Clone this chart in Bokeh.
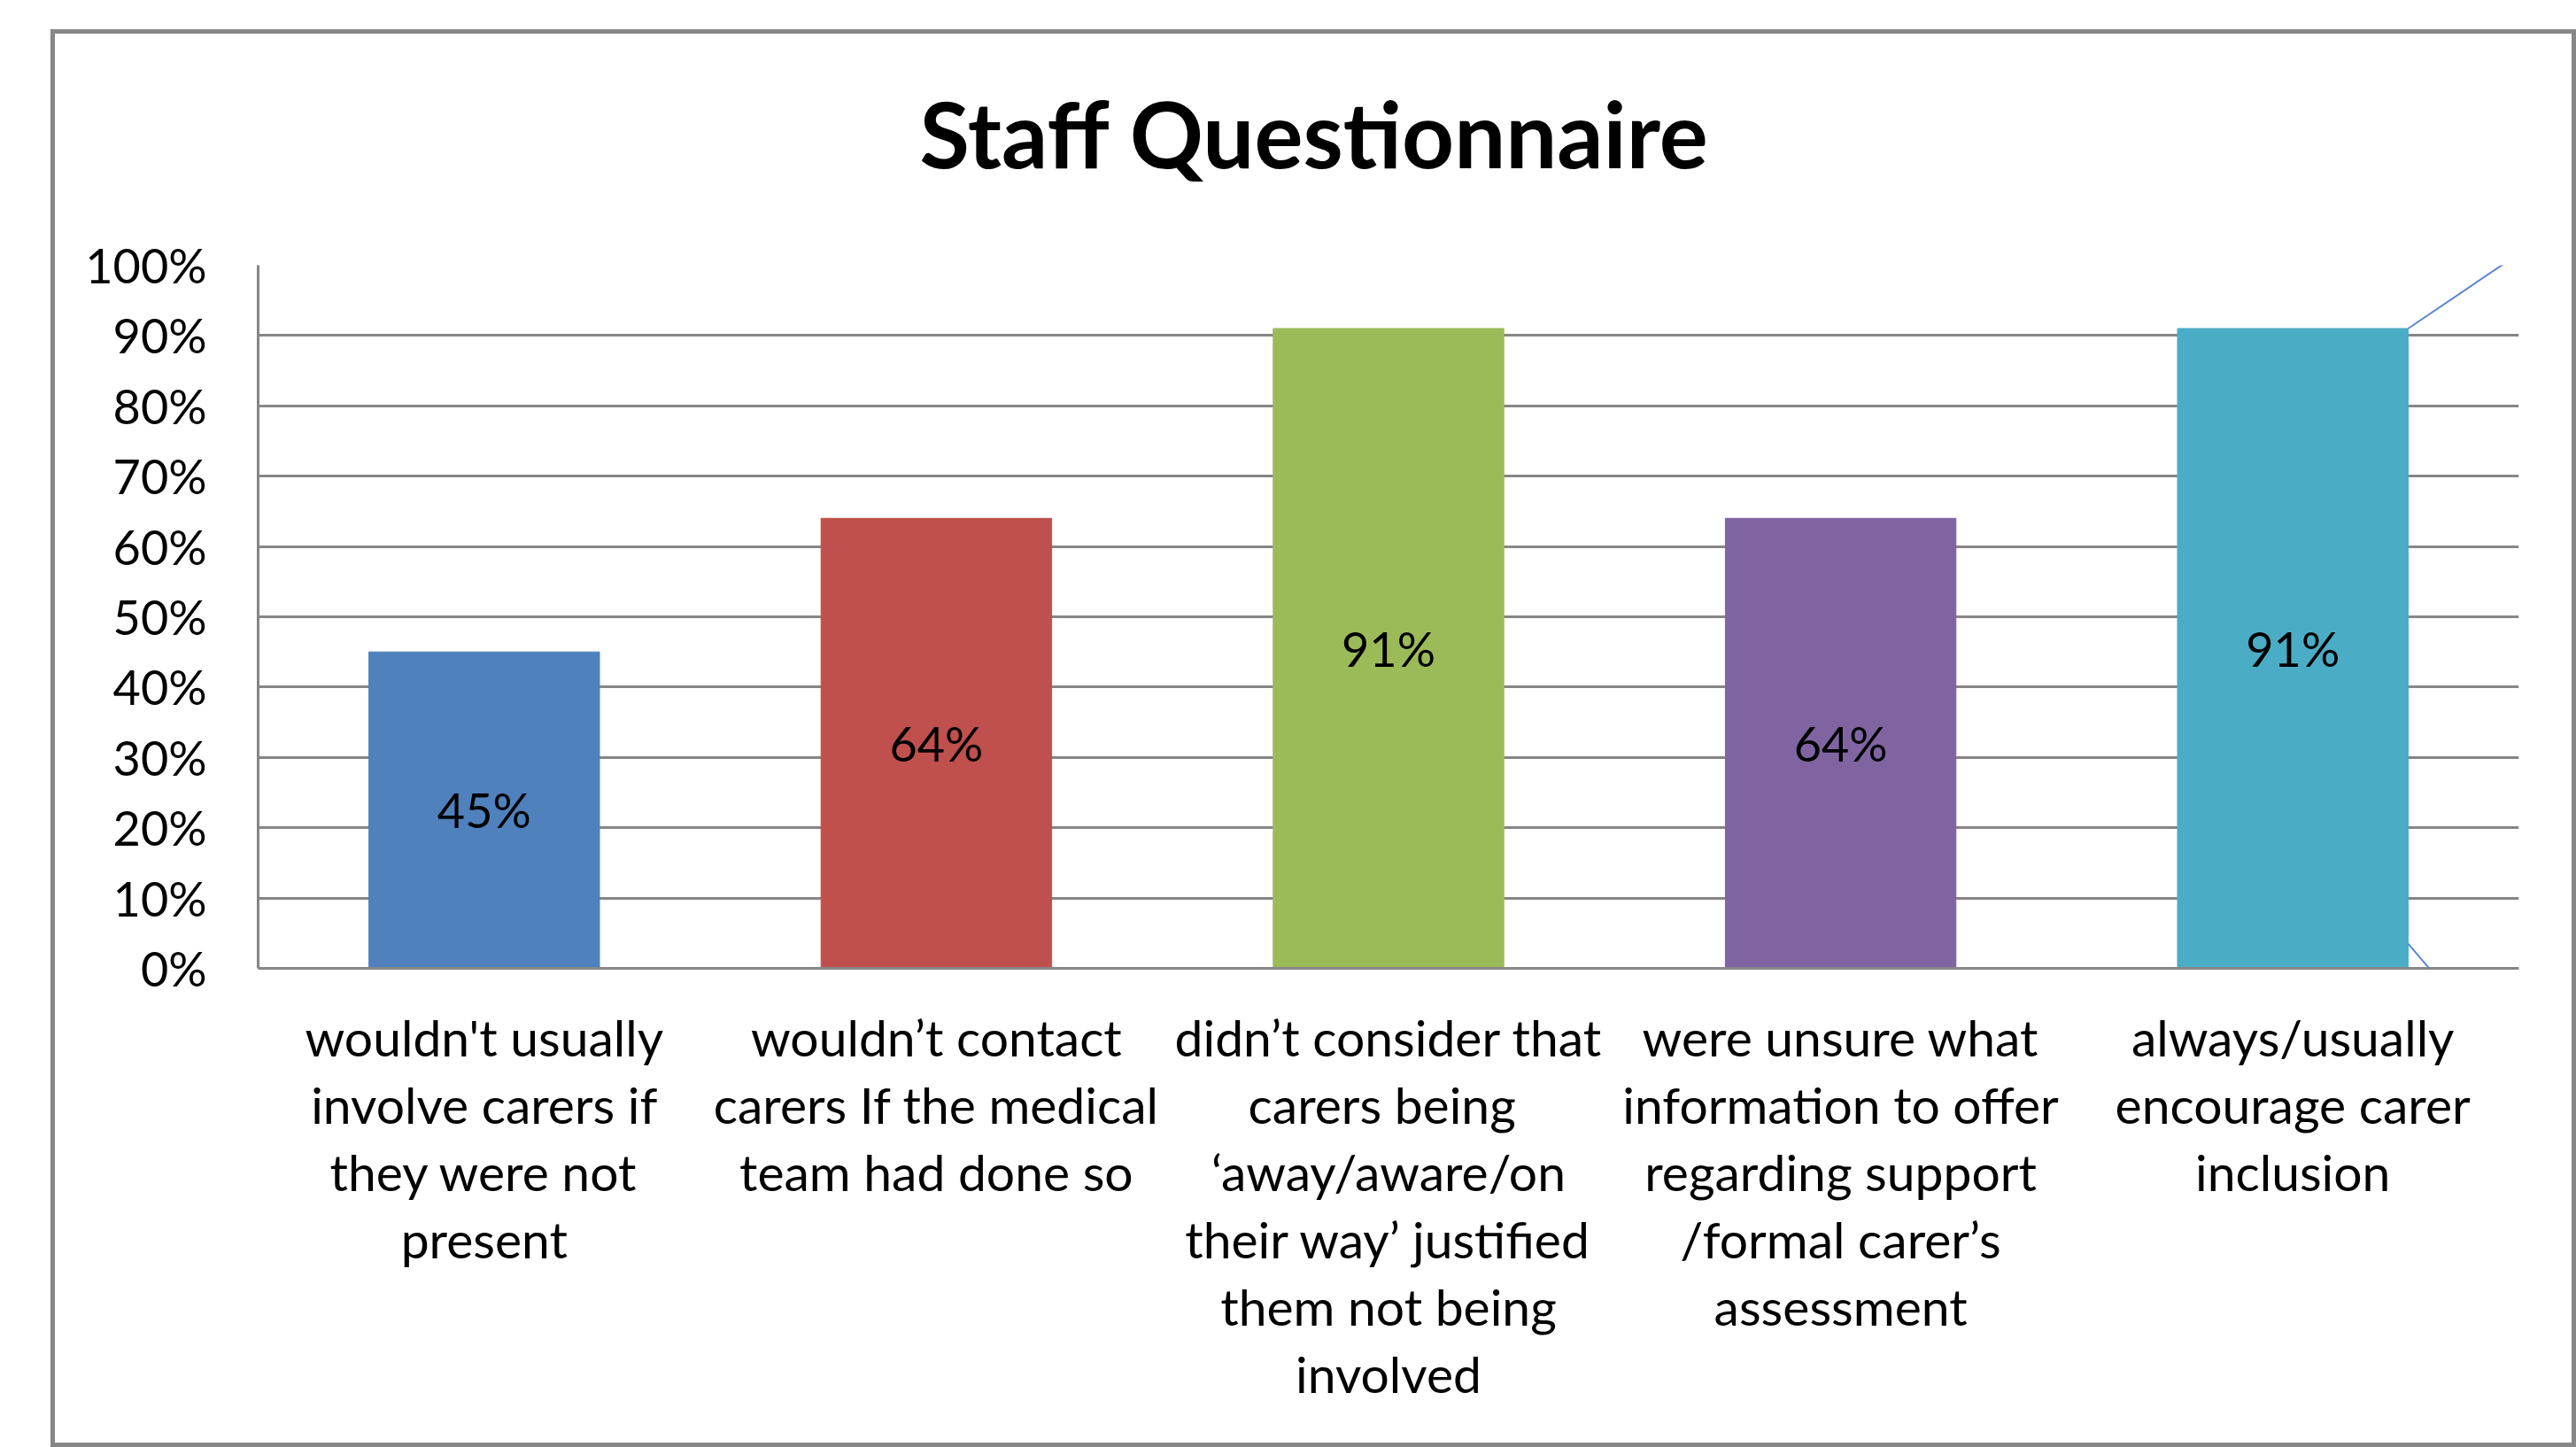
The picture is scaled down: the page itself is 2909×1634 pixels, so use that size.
from bokeh.plotting import figure
from bokeh.models import (Range1d, FixedTicker, PrintfTickFormatter, ColumnDataSource,
                          Spacer, Arrow, Title)
from bokeh.layouts import column, row
from bokeh.embed import file_html
from bokeh.resources import INLINE
from bokeh.core.properties import value

# ---- data ----
title_text = "Staff Questionnaire"
categories = [
    "wouldn't usually\ninvolve carers if\nthey were not\npresent",
    "wouldn\u2019t contact\ncarers If the medical\nteam had done so",
    "didn\u2019t consider that\ncarers  being\n\u2018away/aware/on\ntheir way\u2019 justified\nthem not being\ninvolved",
    "were unsure what\ninformation to offer\nregarding support\n/formal carer\u2019s\nassessment",
    "always/usually\nencourage carer\ninclusion",
]
values = [45, 64, 91, 64, 91]
value_labels = ["45%", "64%", "91%", "64%", "91%"]
colors = ["#4F81BD", "#C0504D", "#9BBB59", "#8064A2", "#4BACC6"]
y_ticks = [0, 10, 20, 30, 40, 50, 60, 70, 80, 90, 100]

# ---- build ----
xs = list(range(len(categories)))
BAR_W = 0.51
src = ColumnDataSource(dict(
    x=xs, top=values, mid=[v / 2 for v in values], color=colors, label=value_labels,
))

W, H = 2842, 1591
FONT = "Lato"
GRID = "#868686"

p = figure(
    width=W, height=H,
    x_range=Range1d(-0.5, len(categories) - 0.5),
    y_range=Range1d(0, 100),
    output_backend="svg", toolbar_location=None,
    min_border_left=229, min_border_right=70,
    min_border_top=261, min_border_bottom=546,
    background_fill_color="white", border_fill_color="white",
    outline_line_color=None,
)
p.styles = {"border": "5px solid #878787", "box-sizing": "content-box"}

title = Title(
    text=title_text, text_font=FONT, text_font_style="bold", text_font_size="103px",
    text_color="black", align="left", offset=747, standoff=10,
)
try:
    title.padding = dict(top=0, right=0, bottom=83, left=0)
except Exception:
    title.vertical_align = "top"
    title.standoff = 134
p.add_layout(title, "above")

p.vbar(x="x", top="top", bottom=0, width=BAR_W, fill_color="color",
       line_color="color", source=src)
p.text(x="x", y="mid", text="label", source=src,
       text_font=value(FONT), text_font_size="54px", text_color="black",
       text_align="center", text_baseline="middle")

# callout lines leaving the last bar toward the right edge (slide decoration)
last = len(xs) - 1
for y_start, y_end in [(values[last], 851), (3.5, -194)]:
    p.add_layout(Arrow(
        end=None, start=None,
        x_start=xs[last] + BAR_W / 2, y_start=y_start, start_units="data",
        x_end=2618, y_end=y_end, end_units="screen",
        line_color="#5B87D0", line_width=2,
    ))

# y axis
p.yaxis.ticker = FixedTicker(ticks=y_ticks)
p.yaxis.formatter = PrintfTickFormatter(format="%d%%")
p.yaxis.major_label_text_font = FONT
p.yaxis.major_label_text_font_size = "54px"
p.yaxis.major_label_text_color = "black"
p.yaxis.major_label_standoff = 52
p.yaxis.axis_line_color = GRID
p.yaxis.axis_line_width = 3
p.yaxis.major_tick_line_color = None
p.yaxis.minor_tick_line_color = None

# x axis
p.xaxis.ticker = FixedTicker(ticks=xs)
p.xaxis.major_label_overrides = {i: c for i, c in zip(xs, categories)}
p.xaxis.major_label_text_font = FONT
p.xaxis.major_label_text_font_size = "57px"
p.xaxis.major_label_text_color = "black"
p.xaxis.major_label_text_line_height = 1.12
p.xaxis.major_label_standoff = 37
p.xaxis.axis_line_color = GRID
p.xaxis.axis_line_width = 3
p.xaxis.major_tick_line_color = None
p.xaxis.minor_tick_line_color = None

p.xgrid.grid_line_color = None
p.ygrid.grid_line_color = GRID
p.ygrid.grid_line_width = 3

layout = column(Spacer(height=33), row(Spacer(width=57), p))

with open("out.html", "w") as f:
    f.write(file_html(layout, INLINE))
